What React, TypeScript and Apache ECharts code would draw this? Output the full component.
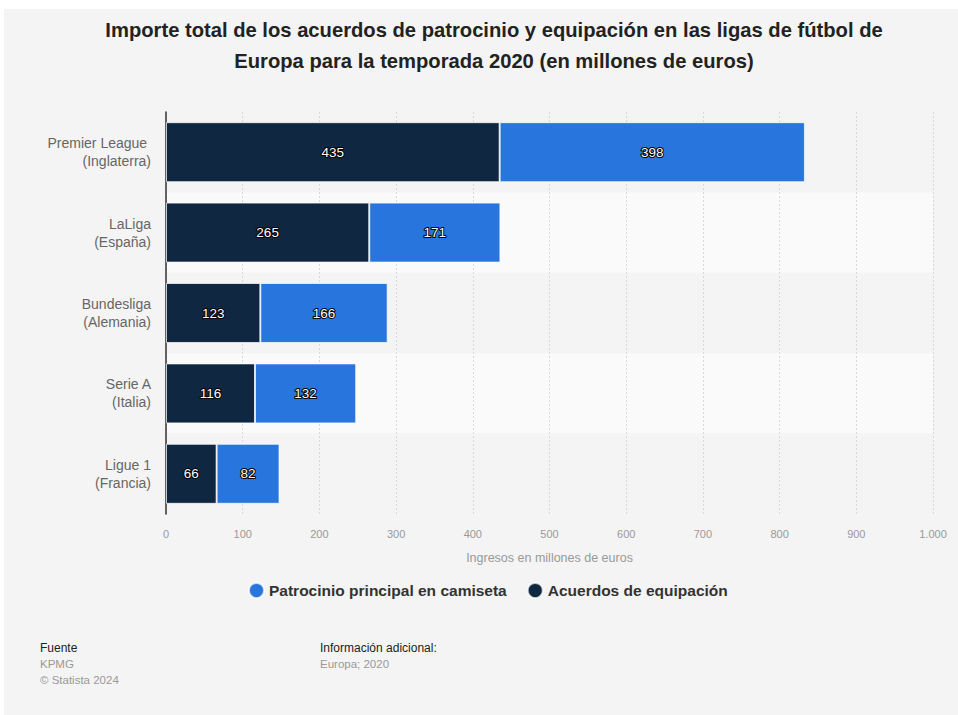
import React, { useEffect, useRef } from "react";
import * as echarts from "echarts";

const categories = ["Premier League \n(Inglaterra)", "LaLiga\n(España)", "Bundesliga\n(Alemania)", "Serie A\n(Italia)", "Ligue 1\n(Francia)"];
const equipacion = [435, 265, 123, 116, 66];
const patrocinio = [398, 171, 166, 132, 82];
const seriesNames = ["Patrocinio principal en camiseta", "Acuerdos de equipación"];
const titleText = "Importe total de los acuerdos de patrocinio y equipación en las ligas de fútbol de\nEuropa para la temporada 2020 (en millones de euros)";
const axisName = "Ingresos en millones de euros";

const FONT = "'Liberation Sans', Arial, sans-serif";

export default function App() {
  const ref = useRef<HTMLDivElement>(null);
  useEffect(() => {
    if (!ref.current) return;
    const chart = echarts.init(ref.current, undefined, { renderer: "svg" });
    const label = {
      show: true,
      position: "inside",
      color: "#fff",
      fontSize: 13.5,
      fontFamily: FONT,
      textBorderColor: "#000",
      textBorderWidth: 2,
    };
    chart.setOption({
      animation: false,
      backgroundColor: "#ffffff",
      textStyle: { fontFamily: FONT },
      graphic: [
        { type: "rect", z: -10, shape: { x: 4, y: 9, width: 960, height: 710 }, style: { fill: "#f4f4f4" } },
        { type: "text", left: 40, top: 642, style: { text: "Fuente", fontSize: 12, fill: "#222", fontFamily: FONT } },
        { type: "text", left: 40, top: 656, style: { text: "KPMG\n© Statista 2024", fontSize: 11.5, lineHeight: 16, fill: "#999", fontFamily: FONT } },
        { type: "text", left: 320, top: 642, style: { text: "Información adicional:", fontSize: 12, fill: "#222", fontFamily: FONT } },
        { type: "text", left: 320, top: 656, style: { text: "Europa; 2020", fontSize: 11.5, lineHeight: 16, fill: "#999", fontFamily: FONT } },
      ],
      title: {
        text: titleText,
        left: 489,
        textAlign: "center",
        top: 9,
        textStyle: { fontSize: 20.2, fontWeight: "bold", color: "#222", lineHeight: 31, fontFamily: FONT },
      },
      legend: {
        data: seriesNames,
        bottom: 111,
        left: 243,
        icon: "circle",
        itemWidth: 15,
        itemHeight: 15,
        itemGap: 20,
        textStyle: { fontSize: 15.5, fontWeight: "bold", color: "#333", fontFamily: FONT },
      },
      grid: { left: 166, right: 25, top: 112, bottom: 201, containLabel: false },
      xAxis: {
        type: "value",
        min: 0,
        max: 1000,
        interval: 100,
        name: axisName,
        nameLocation: "middle",
        nameGap: 37,
        nameTextStyle: { color: "#999", fontSize: 12.5, fontFamily: FONT },
        axisLine: { show: false },
        axisTick: { show: false },
        axisLabel: {
          color: "#999",
          fontSize: 11,
          margin: 14,
          fontFamily: FONT,
          formatter: (v: number) => (v >= 1000 ? (v / 1000).toFixed(0) + "." + String(v % 1000).padStart(3, "0") : String(v)),
        },
        splitLine: { show: true, lineStyle: { color: "#d9d9d9", type: [2, 2], width: 1 } },
      },
      yAxis: {
        type: "category",
        data: categories,
        inverse: true,
        axisLine: { show: true, lineStyle: { color: "#333", width: 1.5 } },
        axisTick: { show: false },
        axisLabel: { color: "#666", fontSize: 14, lineHeight: 18, margin: 15, fontFamily: FONT, align: "right" },
        splitArea: { show: true, areaStyle: { color: ["#f4f4f4", "#fafafa"] } },
        splitLine: { show: false },
      },
      series: [
        {
          name: seriesNames[1],
          type: "bar",
          stack: "total",
          barWidth: 60,
          data: equipacion,
          itemStyle: { color: "#0f2741", borderColor: "rgba(255,255,255,0.7)", borderWidth: 1 },
          label,
        },
        {
          name: seriesNames[0],
          type: "bar",
          stack: "total",
          barWidth: 60,
          data: patrocinio,
          itemStyle: { color: "#2876dd", borderColor: "rgba(255,255,255,0.7)", borderWidth: 1 },
          label,
        },
      ],
    });
    return () => chart.dispose();
  }, []);
  return <div ref={ref} style={{ position: "fixed", left: 0, top: 0, width: 958, height: 715 }} />;
}
